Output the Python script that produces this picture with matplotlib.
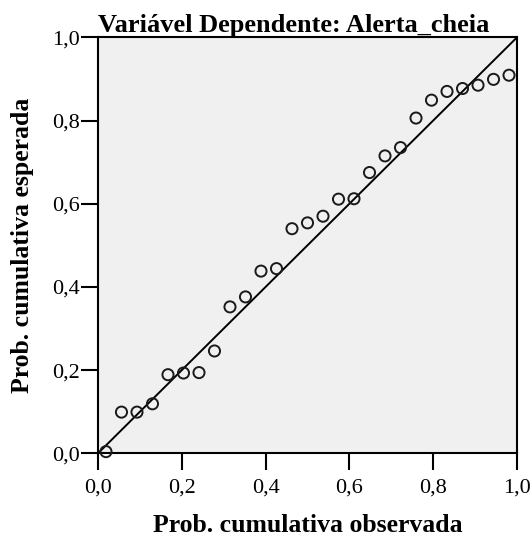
import matplotlib
matplotlib.use("Agg")
import matplotlib.pyplot as plt
from matplotlib.ticker import FuncFormatter

# P-P plot data (observed vs expected cumulative probability)
observed = [0.019, 0.056, 0.093, 0.130, 0.167, 0.204, 0.241, 0.278, 0.315,
            0.352, 0.389, 0.426, 0.463, 0.500, 0.537, 0.574, 0.611, 0.648,
            0.685, 0.722, 0.759, 0.796, 0.833, 0.870, 0.907, 0.944, 0.981]
expected = [0.004, 0.099, 0.099, 0.119, 0.189, 0.193, 0.194, 0.246, 0.352,
            0.376, 0.438, 0.444, 0.540, 0.554, 0.570, 0.611, 0.612, 0.675,
            0.715, 0.735, 0.806, 0.849, 0.870, 0.877, 0.885, 0.899, 0.909]
ref_line = [0.0, 1.0]
ticks = [0.0, 0.2, 0.4, 0.6, 0.8, 1.0]

plt.rcParams["font.family"] = ["Liberation Serif", "DejaVu Serif"]

fig = plt.figure(figsize=(5.31, 5.43), dpi=100)
ax = fig.add_axes([0.1846, 0.1652, 0.789, 0.766])
ax.set_facecolor("#f0f0f0")

ax.plot(ref_line, ref_line, color="black", lw=1.4, zorder=2)
ax.scatter(observed, expected, s=64, facecolors="none", edgecolors="#1a1a1a",
           linewidths=1.4, zorder=3, clip_on=False)

ax.set_xlim(0, 1)
ax.set_ylim(0, 1)
ax.set_xticks(ticks)
ax.set_yticks(ticks)
fmt = FuncFormatter(lambda v, p: f"{v:.1f}".replace(".", ","))
ax.xaxis.set_major_formatter(fmt)
ax.yaxis.set_major_formatter(fmt)
ax.tick_params(direction="out", length=12, width=1.5, labelsize=16)
ax.tick_params(axis="x", pad=6)
ax.tick_params(axis="y", pad=1)

for s in ax.spines.values():
    s.set_linewidth(1.5)
    s.set_color("black")

ax.set_title("Variável Dependente: Alerta_cheia", fontsize=19,
             fontweight="bold", pad=4, x=0.468)
ax.set_xlabel("Prob. cumulativa observada", fontsize=18.5, fontweight="bold",
              labelpad=12)
ax.set_ylabel("Prob. cumulativa esperada", fontsize=18.5, fontweight="bold",
              labelpad=13)

plt.savefig("out.png", dpi=100)
